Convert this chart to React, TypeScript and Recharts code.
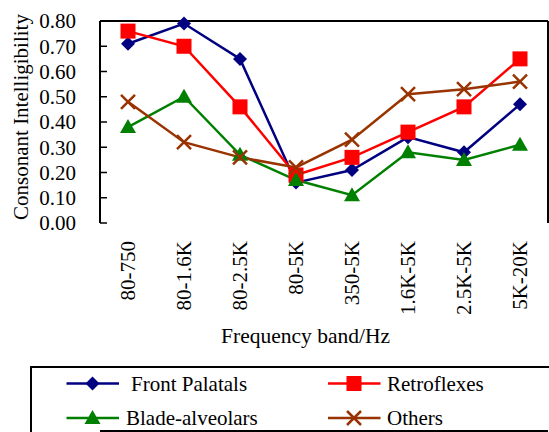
import React from 'react';
import { LineChart, Line, XAxis, YAxis } from 'recharts';

const bands = ['80-750', '80-1.6K', '80-2.5K', '80-5K', '350-5K', '1.6K-5K', '2.5K-5K', '5K-20K'];
const frontPalatals = [0.71, 0.79, 0.65, 0.16, 0.21, 0.34, 0.28, 0.47];
const retroflexes = [0.76, 0.70, 0.46, 0.19, 0.26, 0.36, 0.46, 0.65];
const bladeAlveolars = [0.38, 0.50, 0.27, 0.17, 0.11, 0.28, 0.25, 0.31];
const others = [0.48, 0.32, 0.26, 0.22, 0.33, 0.51, 0.53, 0.56];
const yTicks = [0, 0.1, 0.2, 0.3, 0.4, 0.5, 0.6, 0.7, 0.8];

const FONT = "'Liberation Serif', 'Times New Roman', 'DejaVu Serif', serif";

const series = [
  { key: 'fp', name: 'Front Palatals', color: '#000080', shape: 'diamond', values: frontPalatals },
  { key: 'rf', name: 'Retroflexes', color: '#ff0000', shape: 'square', values: retroflexes },
  { key: 'ba', name: 'Blade-alveolars', color: '#008000', shape: 'triangle', values: bladeAlveolars },
  { key: 'ot', name: 'Others', color: '#993300', shape: 'cross', values: others },
];

const data = bands.map((band, i) => {
  const row: any = { band };
  series.forEach((s) => { row[s.key] = s.values[i]; });
  return row;
});

// tick marks every half band (centres + boundaries)
const minorTicks = Array.from({ length: 17 }, (_, i) => i / 2);

function Marker({ cx, cy, shape, color }: any) {
  if (cx == null || cy == null) return null;
  switch (shape) {
    case 'diamond':
      return <polygon points={`${cx},${cy - 7} ${cx + 7},${cy} ${cx},${cy + 7} ${cx - 7},${cy}`} fill={color} />;
    case 'square':
      return <rect x={cx - 7.5} y={cy - 7.5} width={15} height={15} fill={color} />;
    case 'triangle':
      return <polygon points={`${cx},${cy - 8} ${cx + 8},${cy + 6} ${cx - 8},${cy + 6}`} fill={color} />;
    default:
      return (
        <g stroke={color} strokeWidth={2.5}>
          <line x1={cx - 7} y1={cy - 7} x2={cx + 7} y2={cy + 7} />
          <line x1={cx - 7} y1={cy + 7} x2={cx + 7} y2={cy - 7} />
        </g>
      );
  }
}

function BandTick({ x, y, payload }: any) {
  const ty = y + 18;
  return (
    <text
      x={x}
      y={ty}
      transform={`rotate(-90, ${x}, ${ty})`}
      textAnchor="end"
      dy="0.35em"
      style={{ fontFamily: FONT }}
      fontSize={21}
      fill="#000"
    >
      {payload.value}
    </text>
  );
}

export default function App() {
  return (
    <div style={{ position: 'absolute', left: 0, top: 0, width: 549, height: 432, background: '#fff', overflow: 'hidden', fontFamily: FONT }}>
      <LineChart width={549} height={432} data={data} margin={{ top: 20, right: 0, left: 0, bottom: 0 }}>
        <XAxis
          xAxisId="ticks"
          type="number"
          domain={[0, 8]}
          ticks={minorTicks}
          allowDataOverflow
          height={1}
          tick={false}
          tickSize={-5}
          tickLine={{ stroke: '#000', strokeWidth: 1.5 }}
          axisLine={{ stroke: '#000', strokeWidth: 2 }}
        />
        <XAxis
          dataKey="band"
          height={208}
          padding={{ left: 28, right: 28 }}
          axisLine={false}
          tickLine={false}
          tickSize={0}
          tickMargin={0}
          interval={0}
          tick={<BandTick />}
          label={{
            value: 'Frequency band/Hz',
            content: (p: any) => (
              <text
                x={p.viewBox.x + p.viewBox.width / 2 - 18.5}
                y={342.5}
                textAnchor="middle"
                style={{ fontFamily: FONT }}
                fontSize={21.5}
                fill="#000"
              >
                Frequency band/Hz
              </text>
            ),
          }}
        />
        <XAxis
          xAxisId="top"
          orientation="top"
          type="number"
          domain={[0, 1]}
          allowDataOverflow
          height={1}
          tick={false}
          tickLine={false}
          axisLine={{ stroke: '#000', strokeWidth: 2 }}
        />
        <YAxis
          domain={[0, 0.8]}
          ticks={yTicks}
          interval={0}
          width={100}
          tickSize={-7}
          tickMargin={31}
          tickFormatter={(v: number) => v.toFixed(2)}
          tick={{ fontSize: 21, fill: '#000', style: { fontFamily: FONT } }}
          tickLine={{ stroke: '#000', strokeWidth: 1.5 }}
          axisLine={{ stroke: '#000', strokeWidth: 2 }}
          label={{
            value: 'Consonant Intelligibility',
            content: () => (
              <text
                x={21}
                y={117}
                transform="rotate(-90, 21, 117)"
                textAnchor="middle"
                dominantBaseline="central"
                style={{ fontFamily: FONT }}
                fontSize={21}
                fill="#000"
              >
                Consonant Intelligibility
              </text>
            ),
          }}
        />
        <YAxis
          yAxisId="right"
          orientation="right"
          domain={[0, 1]}
          allowDataOverflow
          width={1}
          tick={false}
          tickLine={false}
          axisLine={{ stroke: '#000', strokeWidth: 2 }}
        />
        {series.map((s) => (
          <Line
            key={s.key}
            dataKey={s.key}
            name={s.name}
            stroke={s.color}
            strokeWidth={2.5}
            isAnimationActive={false}
            dot={(p: any) => <Marker key={`${s.key}-${p.index}`} cx={p.cx} cy={p.cy} shape={s.shape} color={s.color} />}
            activeDot={false}
          />
        ))}
      </LineChart>
      <svg width={549} height={432} style={{ position: 'absolute', left: 0, top: 0, pointerEvents: 'none' }}>
        <rect x={31} y={367} width={540} height={90} fill="none" stroke="#000" strokeWidth={2} />
        {series.map((s, i) => {
          const col = i % 2;
          const row = Math.floor(i / 2);
          const x0 = col === 0 ? 66.5 : 328;
          const cy = row === 0 ? 383.5 : 418;
          const cx = x0 + 26;
          const tx = col === 0 ? (row === 0 ? 131 : 126) : 387;
          return (
            <g key={s.key}>
              <line x1={x0} y1={cy} x2={x0 + 52.5} y2={cy} stroke={s.color} strokeWidth={2.5} />
              <Marker cx={cx} cy={cy} shape={s.shape} color={s.color} />
              <text x={tx} y={cy} dy="0.34em" style={{ fontFamily: FONT }} fontSize={21} fill="#000">
                {s.name}
              </text>
            </g>
          );
        })}
      </svg>
    </div>
  );
}
